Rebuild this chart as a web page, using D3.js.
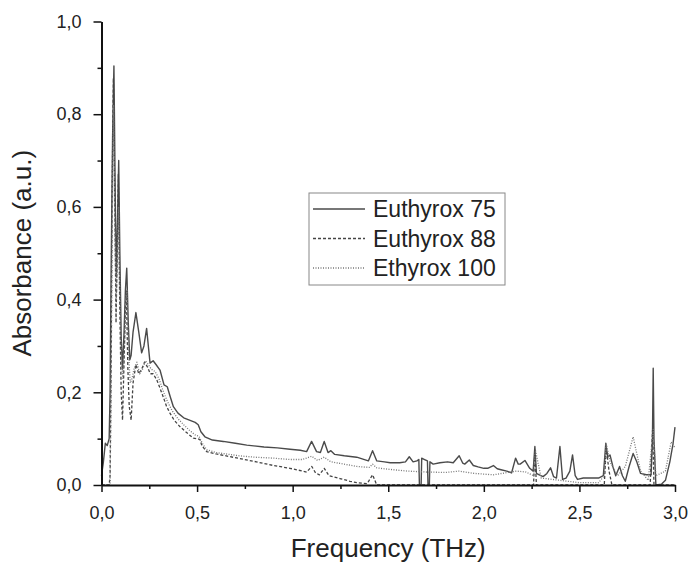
<!DOCTYPE html>
<html>
<head>
<meta charset="utf-8">
<script src="https://cdn.jsdelivr.net/npm/d3@7/dist/d3.min.js"></script>
<style>
  html, body { margin: 0; padding: 0; background: #fff; }
  svg { display: block; font-family: "Liberation Sans", Arial, sans-serif; }
</style>
</head>
<body>
<svg id="chart" width="691" height="564"></svg>
<script>
// THz absorbance spectra: [frequency (THz), absorbance (a.u.)]
const euthyrox75 = [
  [0.000, 0.020], [0.010, 0.050], [0.020, 0.090], [0.030, 0.085], [0.040, 0.100],
  [0.045, 0.200], [0.050, 0.450], [0.058, 0.750], [0.065, 0.904], [0.072, 0.620],
  [0.078, 0.450], [0.083, 0.550], [0.090, 0.700], [0.096, 0.500], [0.103, 0.320],
  [0.110, 0.250], [0.118, 0.330], [0.125, 0.420], [0.132, 0.468], [0.140, 0.350],
  [0.148, 0.270], [0.155, 0.280], [0.165, 0.330], [0.180, 0.372], [0.195, 0.330],
  [0.210, 0.285], [0.222, 0.300], [0.236, 0.338], [0.245, 0.300], [0.254, 0.263],
  [0.270, 0.268], [0.285, 0.260], [0.306, 0.248], [0.327, 0.216], [0.344, 0.212],
  [0.360, 0.190], [0.376, 0.169], [0.400, 0.155], [0.430, 0.145], [0.460, 0.140],
  [0.490, 0.135], [0.506, 0.130], [0.520, 0.115], [0.541, 0.104], [0.580, 0.097],
  [0.637, 0.094], [0.700, 0.090], [0.760, 0.086], [0.850, 0.082], [0.920, 0.080],
  [0.986, 0.077], [1.040, 0.075], [1.073, 0.072], [1.099, 0.094], [1.125, 0.072],
  [1.145, 0.070], [1.165, 0.094], [1.185, 0.070], [1.200, 0.074], [1.220, 0.066],
  [1.270, 0.063], [1.335, 0.060], [1.396, 0.052], [1.418, 0.074], [1.440, 0.052],
  [1.480, 0.050], [1.510, 0.048], [1.560, 0.048], [1.590, 0.050], [1.610, 0.061],
  [1.630, 0.050], [1.650, 0.052], [1.660, 0.055], [1.663, 0.000], [1.672, 0.000],
  [1.675, 0.058], [1.690, 0.055], [1.705, 0.052], [1.708, 0.000], [1.715, 0.000],
  [1.718, 0.050], [1.735, 0.045], [1.770, 0.048], [1.810, 0.050], [1.840, 0.048],
  [1.871, 0.063], [1.890, 0.047], [1.900, 0.045], [1.924, 0.054], [1.945, 0.042],
  [1.970, 0.039], [2.000, 0.036], [2.020, 0.036], [2.050, 0.042], [2.070, 0.035],
  [2.090, 0.033], [2.120, 0.030], [2.145, 0.026], [2.166, 0.058], [2.180, 0.045],
  [2.190, 0.045], [2.215, 0.053], [2.240, 0.036], [2.258, 0.030], [2.267, 0.083],
  [2.275, 0.025], [2.290, 0.022], [2.310, 0.018], [2.330, 0.025], [2.349, 0.037],
  [2.365, 0.018], [2.380, 0.015], [2.398, 0.083], [2.412, 0.012], [2.430, 0.015],
  [2.450, 0.030], [2.464, 0.065], [2.478, 0.020], [2.490, 0.012], [2.520, 0.015],
  [2.560, 0.015], [2.600, 0.015], [2.625, 0.020], [2.638, 0.090], [2.648, 0.060],
  [2.660, 0.065], [2.675, 0.040], [2.690, 0.020], [2.710, 0.040], [2.725, 0.020],
  [2.740, 0.008], [2.760, 0.040], [2.781, 0.068], [2.800, 0.050], [2.820, 0.025],
  [2.850, 0.022], [2.875, 0.022], [2.882, 0.100], [2.886, 0.252], [2.890, 0.100],
  [2.900, 0.000], [2.930, 0.002], [2.950, 0.010], [2.973, 0.050], [2.990, 0.090],
  [3.000, 0.125]
];

const euthyrox88 = [
  [0.000, 0.000], [0.040, 0.000], [0.045, 0.020], [0.050, 0.250], [0.055, 0.600],
  [0.062, 0.878], [0.070, 0.600], [0.076, 0.350], [0.082, 0.500], [0.088, 0.670],
  [0.095, 0.400], [0.103, 0.200], [0.110, 0.140], [0.117, 0.250], [0.125, 0.380],
  [0.130, 0.420], [0.138, 0.250], [0.145, 0.170], [0.155, 0.140], [0.165, 0.220],
  [0.180, 0.260], [0.195, 0.240], [0.210, 0.250], [0.225, 0.265], [0.240, 0.255],
  [0.255, 0.240], [0.270, 0.240], [0.289, 0.227], [0.305, 0.210], [0.323, 0.190],
  [0.340, 0.170], [0.358, 0.155], [0.380, 0.140], [0.410, 0.126], [0.440, 0.115],
  [0.480, 0.101], [0.500, 0.100], [0.515, 0.098], [0.525, 0.085], [0.550, 0.072],
  [0.600, 0.067], [0.637, 0.064], [0.724, 0.057], [0.810, 0.050], [0.900, 0.042],
  [0.986, 0.036], [1.030, 0.032], [1.073, 0.028], [1.100, 0.040], [1.120, 0.026],
  [1.140, 0.022], [1.165, 0.036], [1.190, 0.020], [1.247, 0.014], [1.300, 0.008],
  [1.335, 0.005], [1.390, 0.003], [1.418, 0.022], [1.440, 0.000], [1.700, 0.000],
  [2.260, 0.000], [2.267, 0.075], [2.275, 0.000], [2.630, 0.000], [2.640, 0.080],
  [2.655, 0.030], [2.670, 0.000], [2.870, 0.000], [2.883, 0.120], [2.890, 0.000],
  [3.000, 0.000]
];

const ethyrox100 = [
  [0.000, 0.000], [0.045, 0.000], [0.050, 0.200], [0.057, 0.600], [0.063, 0.820],
  [0.070, 0.550], [0.077, 0.400], [0.083, 0.500], [0.090, 0.600], [0.097, 0.400],
  [0.105, 0.260], [0.112, 0.230], [0.120, 0.300], [0.128, 0.400], [0.133, 0.420],
  [0.140, 0.300], [0.150, 0.220], [0.160, 0.230], [0.170, 0.250], [0.185, 0.265],
  [0.200, 0.240], [0.215, 0.250], [0.230, 0.268], [0.245, 0.260], [0.260, 0.250],
  [0.280, 0.245], [0.300, 0.230], [0.325, 0.200], [0.345, 0.180], [0.370, 0.160],
  [0.400, 0.143], [0.430, 0.130], [0.460, 0.118], [0.490, 0.108], [0.510, 0.105],
  [0.530, 0.088], [0.550, 0.076], [0.600, 0.070], [0.720, 0.063], [0.800, 0.060],
  [0.900, 0.058], [0.986, 0.055], [1.050, 0.055], [1.100, 0.062], [1.130, 0.053],
  [1.165, 0.060], [1.200, 0.050], [1.270, 0.045], [1.335, 0.040], [1.400, 0.038],
  [1.418, 0.045], [1.440, 0.037], [1.500, 0.034], [1.600, 0.030], [1.700, 0.028],
  [1.800, 0.027], [1.870, 0.030], [1.950, 0.025], [2.050, 0.022], [2.170, 0.030],
  [2.220, 0.028], [2.260, 0.020], [2.270, 0.075], [2.300, 0.015], [2.400, 0.010],
  [2.500, 0.005], [2.600, 0.005], [2.630, 0.020], [2.640, 0.090], [2.660, 0.050],
  [2.700, 0.020], [2.740, 0.040], [2.781, 0.104], [2.820, 0.030], [2.860, 0.010],
  [2.886, 0.120], [2.900, 0.020], [2.950, 0.030], [2.980, 0.093], [3.000, 0.080]
];

const seriesNames = ["Euthyrox 75", "Euthyrox 88", "Ethyrox 100"];
const xMajorTicks = [0, 0.5, 1.0, 1.5, 2.0, 2.5, 3.0];
const xMinorTicks = [0.25, 0.75, 1.25, 1.75, 2.25, 2.75];
const yMajorTicks = [0, 0.2, 0.4, 0.6, 0.8, 1.0];
const yMinorTicks = [0.1, 0.3, 0.5, 0.7, 0.9];

const styles = [
  { stroke: "#4a4a4a", dash: null, width: 1.4 },
  { stroke: "#444", dash: "3,2", width: 1.3 },
  { stroke: "#777", dash: "1,1.5", width: 1.3 }
];

const svg = d3.select("#chart");
const x = d3.scaleLinear().domain([0, 3]).range([101.5, 675]);
const y = d3.scaleLinear().domain([0, 1]).range([485, 21.5]);

const locale = d3.formatLocale({ decimal: ",", thousands: ".", grouping: [3], currency: ["", ""] });
const fmt = locale.format(".1f");

// series lines
const line = d3.line().x(d => x(d[0])).y(d => y(d[1]));
[euthyrox75, euthyrox88, ethyrox100].forEach((data, i) => {
  svg.append("path")
    .datum(data)
    .attr("fill", "none")
    .attr("stroke", styles[i].stroke)
    .attr("stroke-width", styles[i].width)
    .attr("stroke-dasharray", styles[i].dash)
    .attr("stroke-linejoin", "round")
    .attr("d", line);
});

// axes
function styleAxis(g, fontSize) {
  g.selectAll("path.domain").attr("stroke", "#111").attr("stroke-width", 2);
  g.selectAll(".tick line").attr("stroke", "#111").attr("stroke-width", 1.5);
  g.selectAll(".tick text").attr("fill", "#222").attr("font-size", fontSize)
    .attr("font-family", "Liberation Sans, Arial, sans-serif");
}

const gxMinor = svg.append("g").attr("transform", "translate(0,485)")
  .call(d3.axisBottom(x).tickValues(xMinorTicks).tickSize(4).tickFormat(""));
gxMinor.select("path.domain").remove();
gxMinor.selectAll(".tick line").attr("stroke", "#111").attr("stroke-width", 1.5);

const gx = svg.append("g").attr("transform", "translate(0,485)")
  .call(d3.axisBottom(x).tickValues(xMajorTicks).tickSize(7).tickSizeOuter(0).tickPadding(14).tickFormat(fmt));
styleAxis(gx, 18);

const gyMinor = svg.append("g").attr("transform", "translate(101.5,0)")
  .call(d3.axisLeft(y).tickValues(yMinorTicks).tickSize(4).tickFormat(""));
gyMinor.select("path.domain").remove();
gyMinor.selectAll(".tick line").attr("stroke", "#111").attr("stroke-width", 1.5);

const gy = svg.append("g").attr("transform", "translate(101.5,0)")
  .call(d3.axisLeft(y).tickValues(yMajorTicks).tickSize(8).tickSizeOuter(0).tickPadding(12).tickFormat(fmt));
styleAxis(gy, 18);

// axis titles
svg.append("text")
  .attr("x", (x(0) + x(3)) / 2).attr("y", 557)
  .attr("text-anchor", "middle").attr("font-size", 26).attr("fill", "#222")
  .text("Frequency (THz)");

svg.append("text")
  .attr("transform", `translate(31,${(y(0) + y(1)) / 2}) rotate(-90)`)
  .attr("text-anchor", "middle").attr("font-size", 26).attr("fill", "#222")
  .text("Absorbance (a.u.)");

// legend
const legend = svg.append("g");
legend.append("rect")
  .attr("x", 309).attr("y", 193).attr("width", 196).attr("height", 92)
  .attr("fill", "#fff").attr("stroke", "#888").attr("stroke-width", 1);
seriesNames.forEach((name, i) => {
  const cy = 209 + i * 29.5;
  legend.append("line")
    .attr("x1", 313).attr("x2", 365).attr("y1", cy).attr("y2", cy)
    .attr("stroke", styles[i].stroke).attr("stroke-width", styles[i].width)
    .attr("stroke-dasharray", styles[i].dash);
  legend.append("text")
    .attr("x", 373).attr("y", cy + 8)
    .attr("font-size", 23).attr("fill", "#222")
    .text(name);
});
</script>
</body>
</html>
